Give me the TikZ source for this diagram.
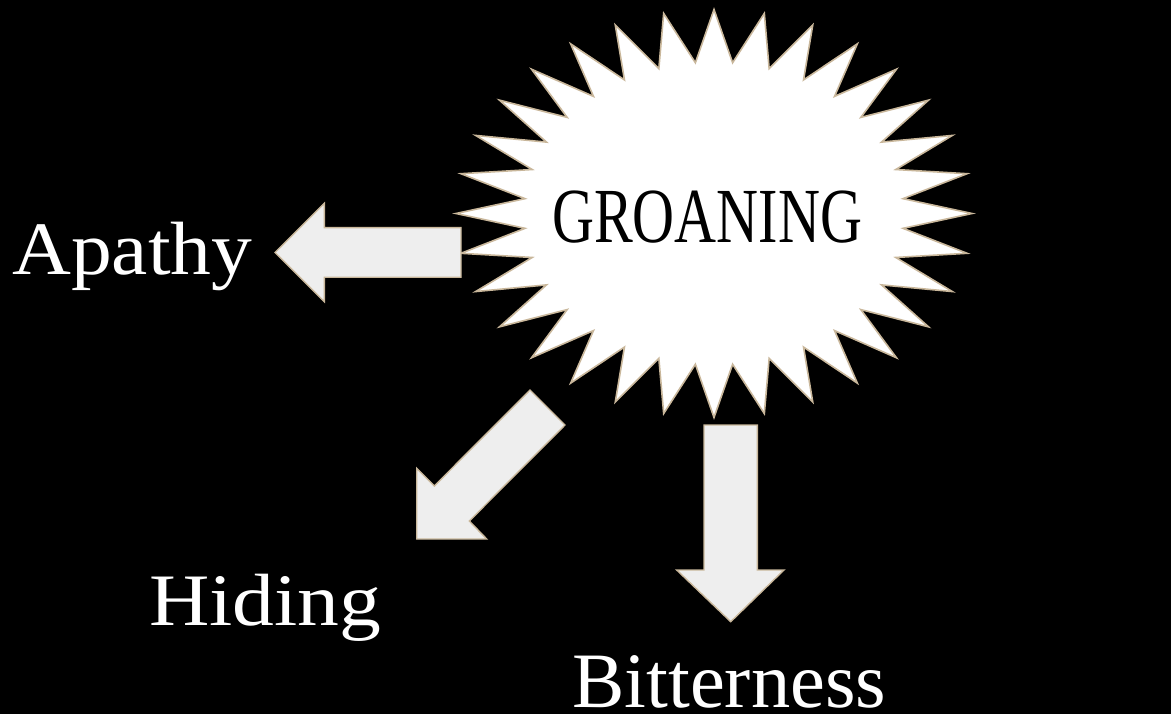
\documentclass[tikz,border=0pt]{standalone}
\usepackage{fontspec}
\setmainfont{Liberation Serif}
\usepackage{graphicx}
\definecolor{tan}{RGB}{201,183,155}
\definecolor{arrowfill}{RGB}{238,238,238}
\tikzset{
  burst/.style={fill=white,draw=tan,line width=1.6pt,line join=miter},
  blockarrow/.style={fill=arrowfill,draw=tan,line width=1.4pt,line join=miter},
  label/.style={text=white,inner sep=0pt,anchor=base west},
  title/.style={text=black,inner sep=0pt,anchor=base west}
}
\begin{document}
\begin{tikzpicture}[x=1pt,y=-1pt]
\fill[black] (0,0) rectangle (1171,714);
\useasboundingbox (0,0) rectangle (1171,714);
% starburst
\draw[burst] (972,213.5)
  \foreach \k in {0,...,31} {
    -- ({714+190*cos(\k*11.25+5.625)},{213.5+151.5*sin(\k*11.25+5.625)})
    -- ({714+258*cos((\k+1)*11.25)},{213.5+204*sin((\k+1)*11.25)})
  } -- cycle;
\node[title] (groan) at (552,242.3) {\scalebox{0.745}[1]{\fontsize{78}{84}\selectfont GROANING}};
% block arrows
\draw[blockarrow] (461,227.7) -- (324.3,227.7) -- (324.3,203.3) -- (275,252.5)
  -- (324.3,301.7) -- (324.3,277.3) -- (461,277.3) -- cycle;
\draw[blockarrow] (530,390) -- (565,425) -- (469.3,521) -- (486.7,539)
  -- (416.7,539) -- (416.7,468.3) -- (434.3,486) -- cycle;
\draw[blockarrow] (704,425) -- (757.3,425) -- (757.3,570) -- (784,570)
  -- (730.7,621.7) -- (676.7,570) -- (704,570) -- cycle;
% labels
\node[label] (apathy) at (12,275) {\scalebox{1.08}[1]{\fontsize{75.5}{80}\selectfont Apathy}};
\node[label] (hiding) at (149,625) {\scalebox{1.13}[1]{\fontsize{74}{80}\selectfont Hiding}};
\node[label] (bitter) at (572,707) {\scalebox{1.0}[1]{\fontsize{78.5}{84}\selectfont Bitterness}};
\end{tikzpicture}
\end{document}
